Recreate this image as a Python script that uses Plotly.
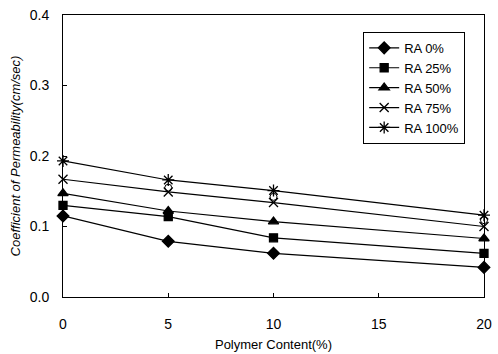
import plotly.graph_objects as go

polymer = [0, 5, 10, 20]
ra0 = [0.115, 0.079, 0.062, 0.042]
ra25 = [0.130, 0.114, 0.084, 0.062]
ra50 = [0.147, 0.122, 0.107, 0.083]
ra75 = [0.167, 0.149, 0.134, 0.100]
ra100 = [0.193, 0.166, 0.151, 0.116]
circ_x = [5, 10, 20]
circ_y = [0.155, 0.142, 0.109]

series = [
    ("RA 0%", ra0, "diamond", 9),
    ("RA 25%", ra25, "square", 8),
    ("RA 50%", ra50, "triangle-up", 9),
    ("RA 75%", ra75, "x-thin-open", 9),
    ("RA 100%", ra100, "asterisk-open", 10),
]

fig = go.Figure()
for name, ys, sym, sz in series:
    fig.add_trace(go.Scatter(
        x=polymer, y=ys, name=name, mode="lines+markers",
        line=dict(color="black", width=1.2),
        marker=dict(symbol=sym, size=sz, color="black",
                    line=dict(color="black", width=1.3)),
        cliponaxis=False,
    ))
fig.add_trace(go.Scatter(
    x=circ_x, y=circ_y, mode="markers", showlegend=False,
    marker=dict(symbol="circle-open", size=7, color="black",
                line=dict(color="black", width=1)),
    cliponaxis=False,
))

font = "Liberation Sans, Arial, sans-serif"
fig.update_layout(
    width=498, height=354,
    margin=dict(l=63, r=14, t=15, b=57),
    paper_bgcolor="white", plot_bgcolor="white",
    font=dict(family=font, size=14, color="black"),
    showlegend=True,
    legend=dict(x=0.713, y=0.94, xanchor="left", yanchor="top",
                bordercolor="black", borderwidth=1, bgcolor="white",
                font=dict(size=13), tracegroupgap=0, itemwidth=30),
    xaxis=dict(range=[0, 20], tickvals=[0, 5, 10, 15, 20],
               automargin=False,
               showgrid=False, zeroline=False, showline=True,
               linecolor="black", linewidth=1, mirror=True,
               ticks="inside", ticklen=4, tickcolor="black",
               ticklabelstandoff=14,
               title=dict(text="Polymer Content(%)", font=dict(size=13), standoff=9)),
    yaxis=dict(range=[0, 0.4], tickvals=[0, 0.1, 0.2, 0.3, 0.4],
               ticktext=["0.0", "0.1", "0.2", "0.3", "0.4"],
               automargin=False,
               showgrid=False, zeroline=False, showline=True,
               linecolor="black", linewidth=1, mirror=True,
               ticks="inside", ticklen=4, tickcolor="black",
               ticklabelstandoff=10,
               title=dict(text="<i>Coefficient of Permeability(cm/sec)</i>", font=dict(size=13), standoff=6)),
)
fig.write_html("out.html", config={"displayModeBar": False},
               post_script="document.body.style.margin='0';document.body.style.overflow='hidden';")
